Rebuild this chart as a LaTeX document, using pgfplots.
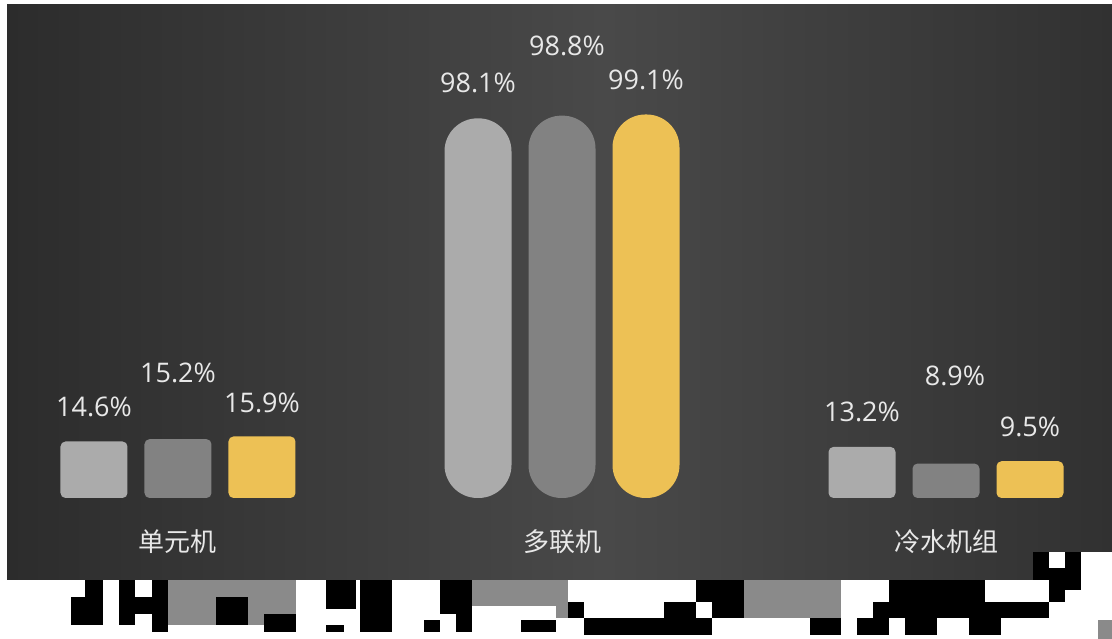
\documentclass[border=0pt]{standalone}
\usepackage{pgfplots}
\pgfplotsset{compat=1.18}
\usepackage{fontspec}
\setmainfont{Open Sans}
\newfontfamily\cjk{Noto Sans CJK SC}
\definecolor{barA}{HTML}{ABABAB}
\definecolor{barB}{HTML}{828282}
\definecolor{barC}{HTML}{EDC155}
\definecolor{lbl}{HTML}{E8E8E8}
\definecolor{bgL}{HTML}{2C2C2C}
\definecolor{bgM}{HTML}{494949}
\definecolor{bgR}{HTML}{313131}
\definecolor{chk}{HTML}{8A8A8A}
\pgfdeclarehorizontalshading{bgshade}{100bp}{color(0bp)=(bgL); color(25bp)=(bgL); color(52bp)=(bgM); color(75bp)=(bgR); color(100bp)=(bgR)}
\begin{document}
\begin{tikzpicture}
\useasboundingbox (-7pt,-59pt) rectangle (1105pt,580pt);
\fill[white] (-7pt,-59pt) rectangle (1105pt,580pt);
\begin{axis}[
  scale only axis, width=1105pt, height=575pt,
  xmin=-0.4453, xmax=2.4323, ymin=-21.19, ymax=127.39,
  axis line style={draw=none}, major tick length=0pt,
  ytick=\empty, xtick={0,1,2}, xticklabels={单元机,多联机,冷水机组},
  xticklabel style={font=\cjk\fontsize{26}{30}\selectfont, text=lbl, anchor=center, yshift=38pt},
  axis background/.style={shade, shading=bgshade},
  ybar, bar width=67pt,
  /pgf/number format/assume math mode=true,
  nodes near coords={\pgfmathprintnumber[fixed,precision=1,fixed zerofill]{\pgfplotspointmeta}\%},
  every node near coord/.append style={font=\fontsize{27}{32}\selectfont, text=lbl, anchor=center},
]
% series 1 (light gray)
\addplot[fill=barA, draw=none, bar shift=-84pt, rounded corners=5pt,
  every node near coord/.append style={yshift=35pt}] coordinates {(0,14.6) (2,13.2)};
\addplot[fill=barA, draw=none, bar shift=-84pt, rounded corners=33pt,
  every node near coord/.append style={yshift=35pt}] coordinates {(1,98.1)};
% series 2 (mid gray)
\addplot[fill=barB, draw=none, bar shift=0pt, rounded corners=5pt,
  every node near coord/.append style={yshift=66pt}] coordinates {(0,15.2)};
\addplot[fill=barB, draw=none, bar shift=0pt, rounded corners=33pt,
  every node near coord/.append style={yshift=70pt, xshift=5pt}] coordinates {(1,98.8)};
\addplot[fill=barB, draw=none, bar shift=0pt, rounded corners=5pt,
  every node near coord/.append style={yshift=88pt, xshift=9pt}] coordinates {(2,8.9)};
% series 3 (yellow)
\addplot[fill=barC, draw=none, bar shift=84pt, rounded corners=5pt,
  every node near coord/.append style={yshift=34pt}] coordinates {(0,15.9) (2,9.5)};
\addplot[fill=barC, draw=none, bar shift=84pt, rounded corners=33pt,
  every node near coord/.append style={yshift=35pt}] coordinates {(1,99.1)};
\end{axis}
% corrupted strip below the chart (image coordinates)
\begin{scope}[x=1pt, y=-1pt, shift={(-7pt,580pt)}]
\fill[black] (85,580) rectangle (103,625);
\fill[black] (71,597) rectangle (85,625);
\fill[black] (119,580) rectangle (135,625);
\fill[black] (135,597) rectangle (152,614);
\fill[black] (152,580) rectangle (168,632);
\fill[chk] (168,580) rectangle (296,625);
\fill[black] (216,597) rectangle (248,625);
\fill[black] (264,614) rectangle (296,632);
\fill[black] (326,580) rectangle (356,609);
\fill[black] (326,625) rectangle (344,632);
\fill[black] (360,580) rectangle (392,632);
\fill[black] (424,620) rectangle (440,632);
\fill[black] (440,580) rectangle (472,614);
\fill[black] (456,614) rectangle (472,632);
\fill[chk] (472,580) rectangle (556,606);
\fill[black] (521,620) rectangle (556,632);
\fill[chk] (556,580) rectangle (568,618);
\fill[black] (568,602) rectangle (584,618);
\fill[black] (584,618) rectangle (712,635);
\fill[black] (664,602) rectangle (696,618);
\fill[black] (696,580) rectangle (712,602);
\fill[black] (712,580) rectangle (744,618);
\fill[chk] (744,580) rectangle (841,618);
\fill[black] (810,618) rectangle (841,635);
\fill[black] (889,580) rectangle (985,602);
\fill[black] (873,602) rectangle (1049,618);
\fill[black] (857,618) rectangle (889,635);
\fill[black] (905,618) rectangle (937,635);
\fill[black] (969,618) rectangle (1001,635);
\fill[white] (1033,552) rectangle (1112,580);
\fill[black] (1033,552) rectangle (1081,580);
\fill[white] (1049,552) rectangle (1065,568);
\fill[black] (1049,580) rectangle (1065,602);
\fill[black] (1065,580) rectangle (1081,590);
\fill[chk] (1098,620) rectangle (1112,639);
\end{scope}
\end{tikzpicture}
\end{document}
